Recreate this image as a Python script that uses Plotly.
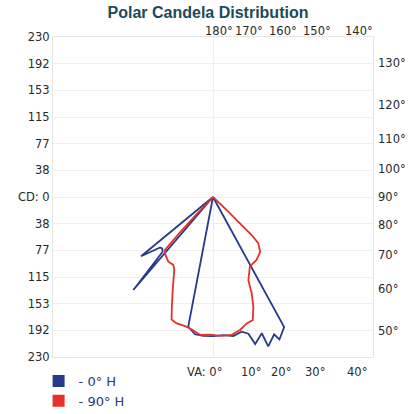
import math
import plotly.graph_objects as go

# ---------------- data ----------------
# vertical angle from nadir in degrees: positive = right half, negative = left half
blue_theta = [-52, -50.5, -46.3, -44.5, -42.6, -40.6, -40, -12, -10.8, -7.5, -4, 0,
              4.3, 8.3, 12, 14.5, 16, 19.7, 20.3, 24, 25, 28.7, 29.5]
blue_cd = [0, 134, 105, 104, 107, 176, 0, 0, 190, 199, 200, 200,
           199, 202, 198, 203, 220, 208, 229, 216, 226, 213, 0]

red_theta = [47, 46.2, 45.7, 45.5, 44.4, 40.7, 34.7, 28, 23, 21.9, 20.2, 17.9, 14.9,
             11.5, 7.7, 2.9, -1.2, -5.4, -9.1, -12.2, -16, -18.7, -20.6, -23.4,
             -27.9, -30.3, -34.6, -39.2, -42.2, -43, -43.5, -44]
red_cd = [0, 30, 51, 78, 93, 104, 110, 113, 130, 149, 168, 186, 188,
          195, 200, 200, 198, 199, 193, 190, 189, 186, 168, 146,
          119, 113, 113, 108, 103, 70, 35, 0]

cd_max = 230
cd_tick_vals = [-230, -191.67, -153.33, -115, -76.67, -38.33, 0,
                38.33, 76.67, 115, 153.33, 191.67, 230]
cd_tick_text = ["230", "192", "153", "115", "77", "38", "CD: 0",
                "38", "77", "115", "153", "192", "230"]

top_angles = [180, 170, 160, 150, 140]
right_angles = [130, 120, 110, 100, 90, 80, 70, 60, 50]
bottom_angles = [0, 10, 20, 30, 40]

series_names = ["- 0° H", "- 90° H"]
series_colors = ["#263a8e", "#e8302a"]

# ---------------- figure ----------------
tick_font = dict(family="DejaVu Sans", size=11.5, color="#2a2a2a")

fig = go.Figure()

fig.add_trace(go.Scatterpolar(r=blue_cd, theta=blue_theta, mode="lines",
                              line=dict(color=series_colors[0], width=1.8),
                              showlegend=False, hoverinfo="skip"))
fig.add_trace(go.Scatterpolar(r=red_cd, theta=red_theta, mode="lines",
                              line=dict(color=series_colors[1], width=1.8),
                              showlegend=False, hoverinfo="skip"))

# legend entries (square swatches)
for name, col in zip(series_names, series_colors):
    fig.add_trace(go.Scatter(x=[None], y=[None], mode="markers", name=name,
                             marker=dict(symbol="square", size=12, color=col),
                             xaxis="x", yaxis="y"))

annotations = []
for a in top_angles:
    shift = {180: -10, 170: -8}.get(a, -4)
    annotations.append(dict(x=-cd_max * math.tan(math.radians(a)), y=cd_max,
                            xref="x", yref="y", text=f"{a}°", showarrow=False,
                            xanchor="left", yanchor="bottom", xshift=shift, yshift=-3,
                            font=tick_font))
for a in right_angles:
    annotations.append(dict(x=cd_max, y=-cd_max / math.tan(math.radians(a)),
                            xref="x", yref="y", text=f"{a}°", showarrow=False,
                            xanchor="left", yanchor="middle", xshift=3,
                            font=tick_font))
for a in bottom_angles:
    if a == 0:
        annotations.append(dict(x=0, y=-cd_max, xref="x", yref="y", text="VA: 0°",
                                showarrow=False, xanchor="right", yanchor="top",
                                xshift=11, yshift=-6, font=tick_font))
    else:
        annotations.append(dict(x=cd_max * math.tan(math.radians(a)), y=-cd_max,
                                xref="x", yref="y", text=f"{a}°", showarrow=False,
                                xanchor="left", yanchor="top", xshift=-2, yshift=-6,
                                font=tick_font))

fig.update_layout(
    width=416, height=414,
    margin=dict(l=53, r=43, t=37, b=57, autoexpand=False),
    paper_bgcolor="white", plot_bgcolor="white",
    title=dict(text="<b>Polar Candela Distribution</b>", x=0.5, xanchor="center",
               y=0.970, yanchor="middle",
               font=dict(family="Liberation Sans", size=16, color="#1b4a58")),
    xaxis=dict(range=[-cd_max, cd_max], domain=[0, 1], tickvals=[0],
               showticklabels=False, showgrid=True, gridcolor="#efefef",
               zeroline=False, showline=True, mirror=True, linecolor="#e6e6e6",
               ticks="", fixedrange=True, automargin=False),
    yaxis=dict(range=[-cd_max, cd_max], domain=[0, 1], tickvals=cd_tick_vals,
               ticktext=cd_tick_text, tickfont=tick_font, showgrid=True,
               gridcolor="#efefef", zeroline=False, showline=True, mirror=True,
               linecolor="#e6e6e6", ticks="", fixedrange=True, automargin=False),
    polar=dict(domain=dict(x=[0, 1], y=[0, 1]), bgcolor="rgba(0,0,0,0)",
               radialaxis=dict(range=[0, cd_max], visible=False),
               angularaxis=dict(rotation=-90, direction="counterclockwise",
                                visible=False)),
    legend=dict(x=-0.045, y=-0.028, xanchor="left", yanchor="top",
                font=dict(family="DejaVu Sans", size=13, color="#2a3a7a"),
                tracegroupgap=0, itemclick=False, bgcolor="rgba(0,0,0,0)"),
    annotations=annotations,
    showlegend=True,
)

fig.write_html(
    "out.html",
    config={"displayModeBar": False, "staticPlot": True},
    post_script="document.body.style.margin='0';document.body.style.overflow='hidden';",
)
